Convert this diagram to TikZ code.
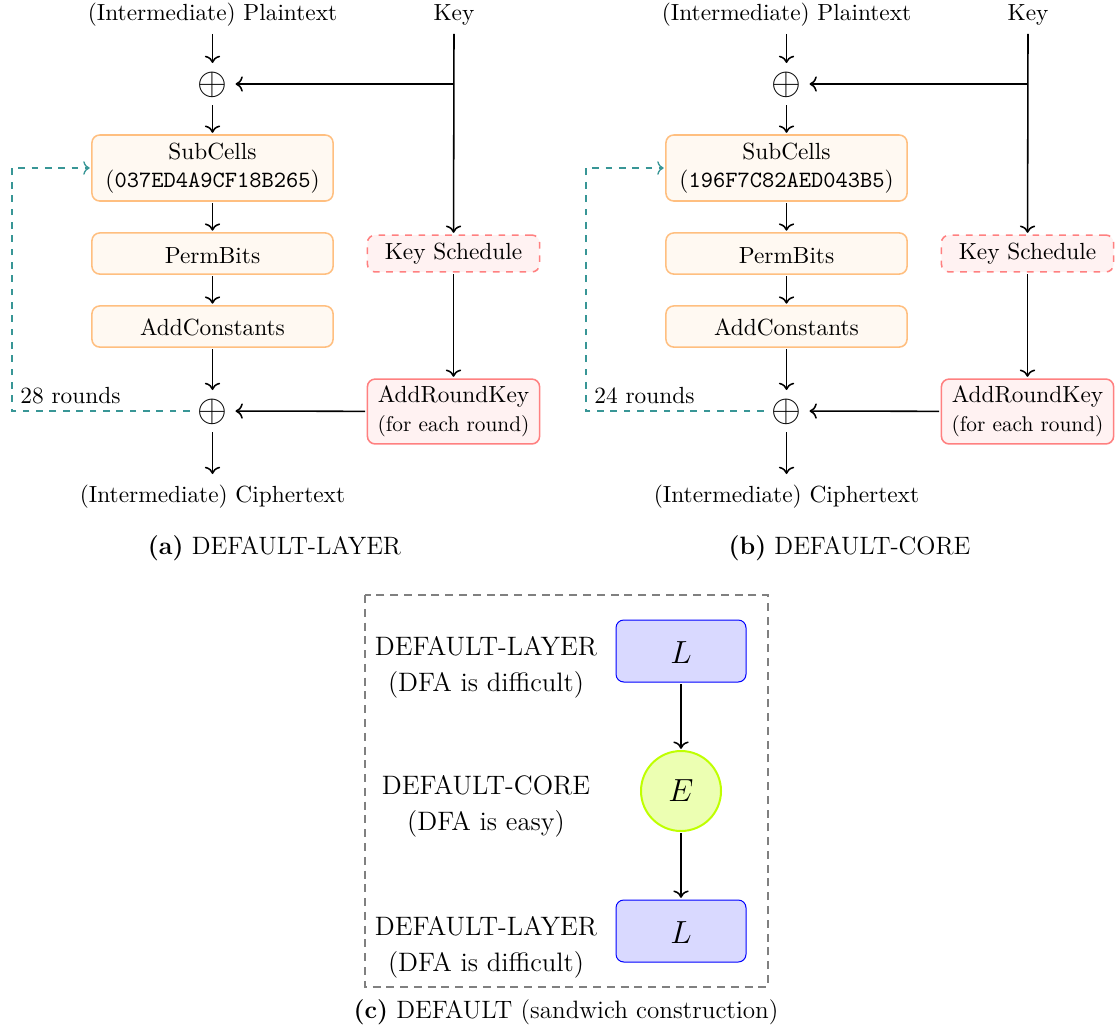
\documentclass[tikz,border=0pt]{standalone}
\usetikzlibrary{calc,arrows.meta}
\definecolor{tealline}{RGB}{56,150,150}
\newcommand{\bodyfont}{\fontsize{10.5}{13}\selectfont}
\newcommand{\smallfont}{\fontsize{9.6}{12}\selectfont}
\newcommand{\capfont}{\fontsize{11.3}{14}\selectfont}
\newcommand{\sidefont}{\fontsize{12}{16.2}\selectfont}
\newcommand{\lowered}[2]{\raisebox{-#1}[\height][\depth]{#2}}
\tikzset{
  x=0.45pt,y=-0.45pt,
  every node/.style={font=\bodyfont},
  flow/.style={-{To[scale=1.05]},line width=0.7pt,black},
  ltext/.style={inner sep=0pt,outer sep=0pt,align=center,minimum width=60pt,minimum height=17pt,anchor=center},
  xorn/.style={inner sep=0pt,outer sep=0pt,minimum width=20.7pt,minimum height=18.9pt,font=\fontsize{16}{16}\selectfont},
  obox/.style={draw=orange!50,fill=orange!5,rounded corners=3.5pt,line width=0.7pt,minimum width=108.5pt,inner sep=0pt,outer sep=1pt,align=center},
  rbox/.style={draw=red!50,fill=red!5,rounded corners=3.5pt,line width=0.7pt,minimum width=77.5pt,inner sep=0pt,outer sep=1pt,align=center},
  lbox/.style={draw=blue,fill=blue!15,rounded corners=3.5pt,line width=0.45pt,minimum width=58.5pt,minimum height=27.9pt,inner sep=0pt,outer sep=1pt,font=\Large},
  ebox/.style={circle,draw=lime,fill=lime!30,line width=0.9pt,minimum size=36pt,inner sep=0pt,outer sep=1pt,font=\Large},
  loopline/.style={-{To[scale=1.0]},dashed,tealline,line width=0.6pt},
  frameline/.style={draw=gray,line width=0.6pt,dash pattern=on 3.6pt off 2.6pt},
}
\newcommand{\panel}[6]{%
\begin{scope}[shift={(#2,0)}]
  \node[ltext] (#1plain) at (212.5,15) {(Intermediate) Plaintext};
  \node[ltext] (#1key) at (454,15) {Key};
  \node[xorn] (#1xa) at (212.5,84) {\lowered{0.3pt}{$\oplus$}};
  \coordinate (#1j) at (454,84);
  \node[obox,minimum height=29.7pt] (#1sub) at (212.5,168) {\raisebox{-0.4pt}{SubCells}\\(\texttt{#3})};
  \node[obox,minimum height=18.5pt] (#1perm) at (212.5,253.5) {\lowered{0.9pt}{PermBits}};
  \node[obox,minimum height=18.5pt] (#1add) at (212.5,326.5) {\lowered{0.4pt}{AddConstants}};
  \node[xorn] (#1xb) at (212.5,411) {\lowered{0.3pt}{$\oplus$}};
  \node[ltext,minimum height=20.7pt] (#1ciph) at (212.5,497) {(Intermediate) Ciphertext};
  \node[rbox,minimum height=16.6pt,dashed] (#1ks) at (453.5,253.5) {Key Schedule};
  \node[rbox,minimum height=29.2pt] (#1ark) at (453.5,411.5) {AddRoundKey\\{\smallfont (for each round)}};
  \coordinate (#1la) at (12,411);
  \coordinate (#1lb) at (12,168);
  \node[inner sep=0pt,anchor=west] (#1rnd) at (20,396) {#4~rounds};
  \node[inner sep=0pt,font=\capfont] (#1cap) at (#5,548) {\textbf{(#1)} DEFAULT-#6};
  \draw[flow] (#1plain) -- (#1xa);
  \draw[flow] (#1xa) -- (#1sub);
  \draw[flow] (#1sub) -- (#1perm);
  \draw[flow] (#1perm) -- (#1add);
  \draw[flow] (#1add) -- (#1xb);
  \draw[flow] (#1xb) -- (#1ciph);
  \draw[flow] (#1key.south) -- (#1ks);
  \draw[flow] (#1j) -- (#1xa);
  \draw[flow] (#1ks) -- (#1ark);
  \draw[flow] (#1ark) -- (#1xb);
  \draw[loopline] (#1xb) -- (#1la) -- (#1lb) -- (#1sub);
\end{scope}}
\begin{document}
\begin{tikzpicture}
\useasboundingbox (0,0) rectangle (1115,1027);
\panel{a}{0}{037ED4A9CF18B265}{28}{274.5}{LAYER}
\panel{b}{574}{196F7C82AED043B5}{24}{275.5}{CORE}
\draw[frameline] (365,595) rectangle (768,987);
\node[inner sep=0pt,align=center,font=\sidefont] (t1) at (486,667) {DEFAULT-LAYER\\(DFA is difficult)};
\node[inner sep=0pt,align=center,font=\sidefont] (t2) at (486,806) {DEFAULT-CORE\\(DFA is easy)};
\node[inner sep=0pt,align=center,font=\sidefont] (t3) at (486,947) {DEFAULT-LAYER\\(DFA is difficult)};
\node[lbox] (l1) at (681,651) {\lowered{0.9pt}{$L$}};
\node[ebox] (e) at (681,791) {$E$};
\node[lbox] (l2) at (681,931) {\lowered{0.9pt}{$L$}};
\draw[flow] (l1) -- (e);
\draw[flow] (e) -- (l2);
\node[inner sep=0pt,font=\capfont] (capc) at (566,1012) {\textbf{(c)} DEFAULT (sandwich construction)};
\end{tikzpicture}
\end{document}
